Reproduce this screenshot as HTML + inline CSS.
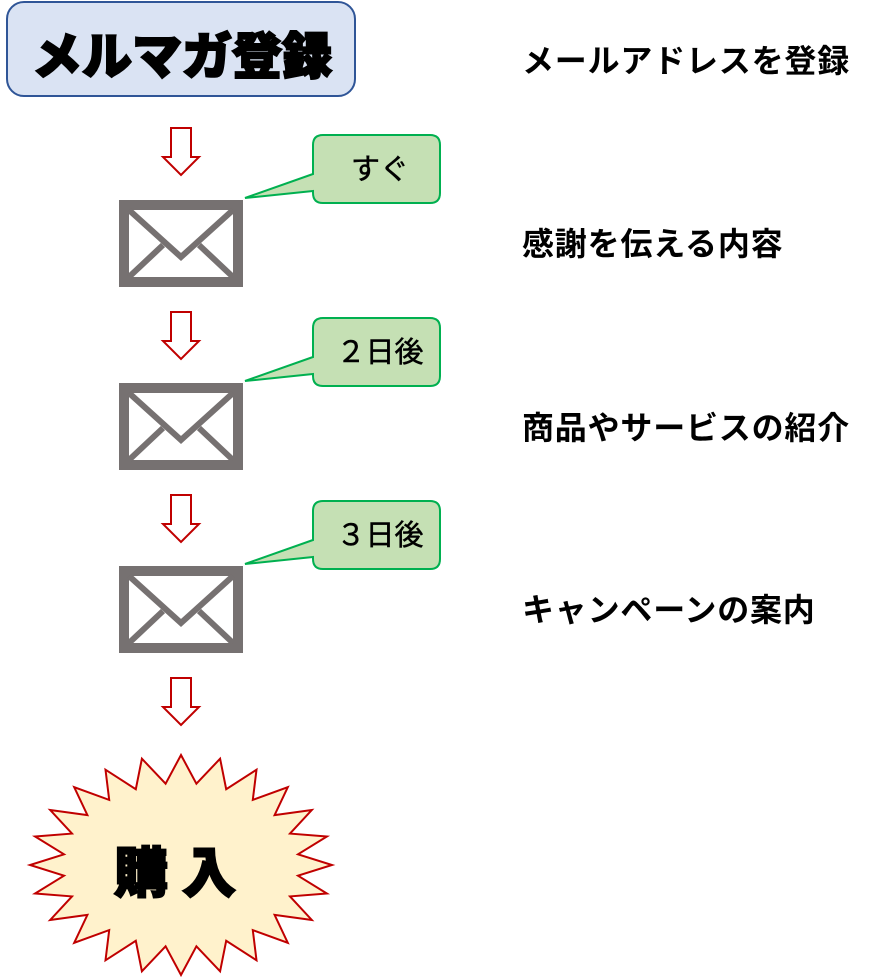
<!DOCTYPE html>
<html><head><meta charset="utf-8"><style>
html,body{margin:0;padding:0;background:#fff;}
svg{display:block;}
text{font-family:"Liberation Sans","Noto Sans CJK JP",sans-serif;}
.r{font-size:32px;font-weight:bold;letter-spacing:0.8px;fill:#000;}
.c{font-size:29px;fill:#000;stroke:#000;stroke-width:0.5px;}
</style></head><body>
<svg id="s" width="872" height="977" viewBox="0 0 872 977" xmlns="http://www.w3.org/2000/svg">
<rect x="7" y="2" width="348" height="94" rx="17" fill="#dae3f3" stroke="#2f5597" stroke-width="2"/>
<text x="182" y="74" text-anchor="middle" style="font-size:50px;font-weight:900;stroke:#000;stroke-width:2px" fill="#000">メルマガ登録</text>

<g id="arrows" fill="#fff" stroke="#c00000" stroke-width="2"></g>
<g id="envs"></g>
<g id="calls"></g>

<text class="r" x="522" y="72">メールアドレスを登録</text>
<text class="r" x="522" y="255">感謝を伝える内容</text>
<text class="r" x="522" y="439">商品やサービスの紹介</text>
<text class="r" x="522" y="621">キャンペーンの案内</text>

<polygon id="burst" fill="#fff2cc" stroke="#c00000" stroke-width="2"/>
<text x="182" y="892" text-anchor="middle" style="font-size:54px;font-weight:900;stroke:#000;stroke-width:2px;letter-spacing:14px" fill="#000">購入</text>
</svg>
<script>
var ns="http://www.w3.org/2000/svg";
function el(t,a,p){var e=document.createElementNS(ns,t);for(var k in a)e.setAttribute(k,a[k]);p.appendChild(e);return e;}
var ar=document.getElementById('arrows');
[128,312,495,678].forEach(function(y){
 el('polygon',{points:[171,y,191,y,191,y+29,199,y+29,181,y+47,163,y+29,171,y+29].join(' ')},ar);
});
var ev=document.getElementById('envs');
[200,383,566].forEach(function(y){
 el('rect',{x:124,y:y+5,width:114,height:77,fill:'#fff',stroke:'#767171','stroke-width':10},ev);
 el('polyline',{points:'129,'+(y+10)+' 181,'+(y+57)+' 233,'+(y+10),fill:'none',stroke:'#767171','stroke-width':6},ev);
 el('line',{x1:129,y1:y+77,x2:163,y2:y+45,stroke:'#767171','stroke-width':6},ev);
 el('line',{x1:233,y1:y+77,x2:199,y2:y+45,stroke:'#767171','stroke-width':6},ev);
});
var cl=document.getElementById('calls');
[[135,'すぐ'],[318,'２日後'],[501,'３日後']].forEach(function(c){
 var y=c[0];
 var d='M323,'+y+' H430 Q440,'+y+' 440,'+(y+10)+' V'+(y+58)+' Q440,'+(y+68)+' 430,'+(y+68)+' H323 Q313,'+(y+68)+' 313,'+(y+58)+' V'+(y+56)+' L245,'+(y+63)+' L313,'+(y+39)+' V'+(y+10)+' Q313,'+y+' 323,'+y+' Z';
 el('path',{d:d,fill:'#c5e0b4',stroke:'#00b050','stroke-width':2},cl);
 var t=el('text',{x:380,y:y+44,'text-anchor':'middle','class':'c'},cl);t.textContent=c[1];
});
var pts=[],n=24,cx=181,cy=865;
for(var i=0;i<2*n;i++){var a=-Math.PI/2+i*Math.PI/n;var o=i%2==0;var rx=o?151:118,ry=o?110:82;pts.push((cx+rx*Math.cos(a)).toFixed(1)+','+(cy+ry*Math.sin(a)).toFixed(1));}
document.getElementById('burst').setAttribute('points',pts.join(' '));
</script>
</body></html>
